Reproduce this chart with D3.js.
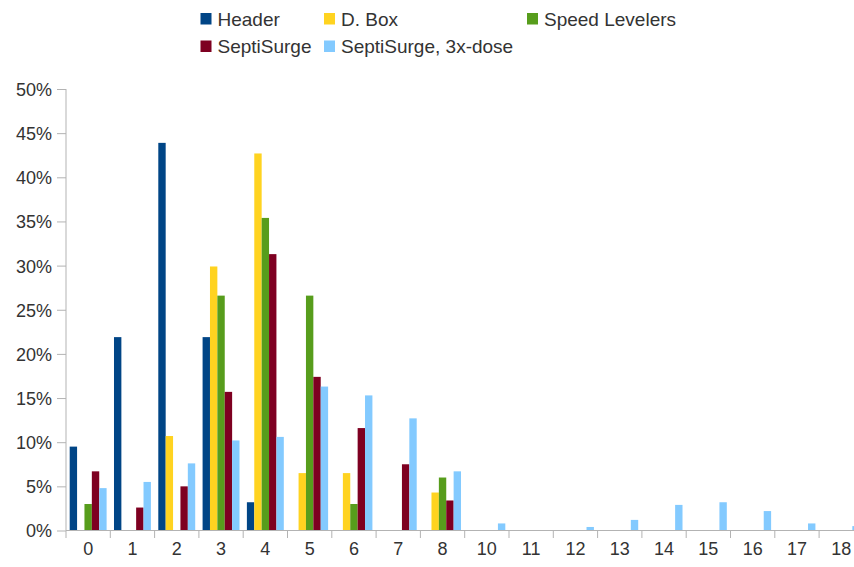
<!DOCTYPE html>
<html>
<head>
<meta charset="utf-8">
<script src="https://cdn.jsdelivr.net/npm/d3@7"></script>
<style>
  html, body { margin: 0; padding: 0; background: #fff; }
  svg { display: block; font-family: "Liberation Sans", Arial, sans-serif; }
</style>
</head>
<body>
<svg id="chart" width="854" height="567"></svg>
<script>
// ---- data ----
const categories = ["0","1","2","3","4","5","6","7","8","10","11","12","13","14","15","16","17","18"];
const seriesNames = ["Header","D. Box","Speed Levelers","SeptiSurge","SeptiSurge, 3x-dose"];
const seriesColors = ["#004586","#ffd320","#579d1c","#7e0021","#83caff"];
const header        = [9.5, 21.9, 43.9, 21.9, 3.2, 0, 0, 0, 0, 0, 0, 0, 0, 0, 0, 0, 0, 0];
const dBox          = [0, 0, 10.7, 29.9, 42.7, 6.5, 6.5, 0, 4.3, 0, 0, 0, 0, 0, 0, 0, 0, 0];
const speedLevelers = [3.0, 0, 0, 26.6, 35.4, 26.6, 3.0, 0, 6.0, 0, 0, 0, 0, 0, 0, 0, 0, 0];
const septiSurge    = [6.7, 2.6, 5.0, 15.7, 31.3, 17.4, 11.6, 7.5, 3.4, 0, 0, 0, 0, 0, 0, 0, 0, 0];
const septi3x       = [4.8, 5.5, 7.6, 10.2, 10.6, 16.3, 15.3, 12.7, 6.7, 0.8, 0, 0.4, 1.2, 2.9, 3.2, 2.2, 0.8, 0.5];
const yTicks = [0, 5, 10, 15, 20, 25, 30, 35, 40, 45, 50];

const seriesValues = [header, dBox, speedLevelers, septiSurge, septi3x];

(function () {
// ---- layout ----
const svg = d3.select("#chart");
const plotLeft = 66, plotBottom = 530.5, plotTop = 89;
const catW = 44.3;
const plotRight = plotLeft + categories.length * catW;

const x = d3.scaleBand().domain(categories).range([plotLeft, plotRight]).paddingInner(0).paddingOuter(0);
const sub = d3.scaleBand().domain(d3.range(seriesNames.length))
  .range([0, x.bandwidth()]).paddingInner(0).paddingOuter(0.5);
const y = d3.scaleLinear().domain([0, 50]).range([plotBottom, plotTop]);

const axisColor = "#b3b3b3";

// bars
seriesValues.forEach((vals, si) => {
  svg.append("g").selectAll("rect")
    .data(vals.map((v, i) => ({cat: categories[i], v})).filter(d => d.v > 0))
    .join("rect")
    .attr("x", d => x(d.cat) + sub(si))
    .attr("width", sub.bandwidth())
    .attr("y", d => y(d.v))
    .attr("height", d => y(0) - y(d.v))
    .attr("fill", seriesColors[si]);
});

// y axis
const yAxis = svg.append("g").attr("transform", `translate(${plotLeft},0)`)
  .call(d3.axisLeft(y).tickValues(yTicks).tickFormat(d => d + "%").tickSize(9).tickPadding(5));
yAxis.select(".domain").attr("stroke", axisColor).attr("d", `M0,${plotTop}V${plotBottom}`);
yAxis.selectAll(".tick line").attr("stroke", axisColor);
yAxis.selectAll(".tick text").attr("fill", "#333").style("font-size", "18px")
  .style("font-family", "'Liberation Sans', Arial, sans-serif").attr("dy", "0.36em");

// x axis
const xAxis = svg.append("g").attr("transform", `translate(0,${plotBottom})`)
  .call(d3.axisBottom(x).tickSize(0).tickPadding(12));
xAxis.select(".domain").attr("stroke", axisColor).attr("d", `M${plotLeft},0H${plotRight}`);
xAxis.selectAll(".tick text").attr("fill", "#333").style("font-size", "18px")
  .style("font-family", "'Liberation Sans', Arial, sans-serif").attr("dy", "0.71em");
// boundary ticks between categories
svg.append("g").selectAll("line")
  .data(d3.range(categories.length + 1))
  .join("line")
  .attr("x1", i => plotLeft + i * catW).attr("x2", i => plotLeft + i * catW)
  .attr("y1", plotBottom).attr("y2", plotBottom + 7.5)
  .attr("stroke", axisColor);

// legend
const legendPos = [[200.5, 19], [324, 19], [527, 19], [200.5, 46.5], [324, 46.5]];
const legend = svg.append("g").selectAll("g")
  .data(seriesNames.map((n, i) => ({n, i})))
  .join("g")
  .attr("transform", d => `translate(${legendPos[d.i][0]},${legendPos[d.i][1]})`);
legend.append("rect").attr("x", 0).attr("y", -6).attr("width", 11).attr("height", 11.5)
  .attr("fill", d => seriesColors[d.i]);
legend.append("text").attr("x", 17).attr("y", 0).attr("dy", "0.36em")
  .style("font-size", "19px").attr("fill", "#333").text(d => d.n);
})();
</script>
</body>
</html>
